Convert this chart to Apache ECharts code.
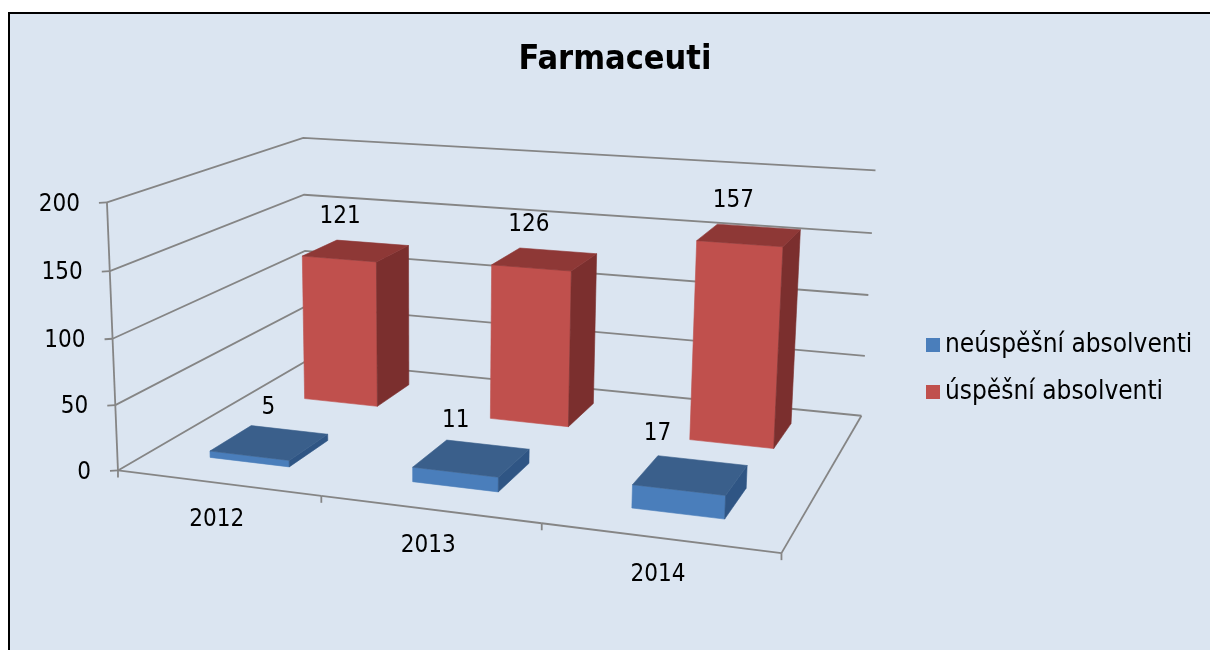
<!DOCTYPE html>
<html>
<head>
<meta charset="utf-8">
<script src="https://cdn.jsdelivr.net/npm/echarts@6/dist/echarts.min.js"></script>
<style>
html,body{margin:0;padding:0;background:#fff;}
#chart{width:1210px;height:650px;}
</style>
</head>
<body>
<div id="chart"></div>
<script>
// ---- data ----
const categories = ['2012', '2013', '2014'];
const neuspesni = [5, 11, 17];
const uspesni = [121, 126, 157];
const yTicks = [0, 50, 100, 150, 200];
const seriesNames = ['neúspěšní absolventi', 'úspěšní absolventi'];

// ---- layout / style ----
const FONT = "'DejaVu Sans Condensed', 'DejaVu Sans', sans-serif";
const GRID_COLOR = '#858585';
const GRID_WIDTH = 1.8;
const ROW_CENTER = [0.26, 0.77];   // depth of the two series rows (0 front .. 1 back)
const BAR_DEPTH = 0.21;
const BAR_WIDTH = 0.40;            // fraction of category band
const LABEL_DEPTH = [0.70, 0.77];  // depth at which value labels are anchored, per row
const LABEL_OFFSET = [[-78, 15], [-16, -34]]; // per row: [dx, dy] of value labels
// 3D frame anchors: [u, v, w, screenX, screenY] (u across, v height, w depth)
const FRAME_ANCHORS = [
  [0, 0, 0, 120, 470], [0, 0.25, 0, 116, 405], [0, 0.5, 0, 113, 338], [0, 0.75, 0, 109, 272], [0, 1, 0, 105, 202],
  [0, 0, 1, 305, 362], [0, 0.25, 1, 305, 306], [0, 0.5, 1, 305, 250], [0, 0.75, 1, 305, 194], [0, 1, 1, 305, 138.5],
  [1, 0, 1, 862, 415], [1, 0.25, 1, 865, 356], [1, 0.5, 1, 868, 295], [1, 0.75, 1, 872, 233], [1, 1, 1, 875, 171],
  [1, 0, 0, 782, 553], [1/3, 0, 0, 321, 497], [2/3, 0, 0, 541, 523]
];

// ---- fit a perspective camera (DLT) ----
function solveLinear(M, v) {
  const n = v.length;
  const A = M.map((r, i) => r.concat([v[i]]));
  for (let c = 0; c < n; c++) {
    let p = c;
    for (let r = c + 1; r < n; r++) if (Math.abs(A[r][c]) > Math.abs(A[p][c])) p = r;
    [A[c], A[p]] = [A[p], A[c]];
    for (let r = c + 1; r < n; r++) {
      const f = A[r][c] / A[c][c];
      for (let k = c; k <= n; k++) A[r][k] -= f * A[c][k];
    }
  }
  const x = new Array(n).fill(0);
  for (let r = n - 1; r >= 0; r--) {
    let s = A[r][n];
    for (let k = r + 1; k < n; k++) s -= A[r][k] * x[k];
    x[r] = s / A[r][r];
  }
  return x;
}
const S = 1000;
function fitCamera(pts) {
  const n = 11;
  const M = Array.from({length: n}, () => new Array(n).fill(0));
  const v = new Array(n).fill(0);
  const add = (row, b) => {
    for (let j = 0; j < n; j++) {
      v[j] += row[j] * b;
      for (let k = 0; k < n; k++) M[j][k] += row[j] * row[k];
    }
  };
  pts.forEach(([X, Y, Z, x, y]) => {
    x /= S; y /= S;
    add([X, Y, Z, 1, 0, 0, 0, 0, -x * X, -x * Y, -x * Z], x);
    add([0, 0, 0, 0, X, Y, Z, 1, -y * X, -y * Y, -y * Z], y);
  });
  return solveLinear(M, v);
}
const CAM = fitCamera(FRAME_ANCHORS);
function project(u, v, w) {
  const p = CAM;
  const d = p[8] * u + p[9] * v + p[10] * w + 1;
  return [S * (p[0] * u + p[1] * v + p[2] * w + p[3]) / d,
          S * (p[4] * u + p[5] * v + p[6] * w + p[7]) / d];
}

function normU(cs, px) { return (px - cs.x) / cs.width; }
function normV(cs, py) { return (cs.y + cs.height - py) / cs.height; }
const gridLine = {stroke: GRID_COLOR, lineWidth: GRID_WIDTH};

// ---- walls & value axis ----
function renderWall(params, api) {
  const cs = params.coordSys;
  const val = api.value(1);
  const v = normV(cs, api.coord([0, val])[1]);
  const a = project(0, v, 0), b = project(0, v, 1), c = project(1, v, 1);
  const children = [
    {type: 'polyline', shape: {points: [a, b, c]}, style: {stroke: GRID_COLOR, lineWidth: GRID_WIDTH, fill: null}},
    {type: 'line', shape: {x1: a[0], y1: a[1], x2: a[0] - 8, y2: a[1] + 0.5}, style: gridLine},
    {type: 'text', x: a[0] - 27, y: a[1] + 2, style: {text: String(val), align: 'right', verticalAlign: 'middle',
      fontSize: 24, fontFamily: FONT, fill: '#000'}}
  ];
  if (params.dataIndex > 0) {
    const vp = normV(cs, api.coord([0, yTicks[params.dataIndex - 1]])[1]);
    const q = project(0, vp, 0);
    children.push({type: 'line', shape: {x1: a[0], y1: a[1], x2: q[0], y2: q[1]}, style: gridLine});
  }
  return {type: 'group', children};
}

// ---- floor front edge & category axis ----
function renderCategory(params, api) {
  const cs = params.coordSys;
  const idx = api.value(0);
  const p = api.coord([idx, 0]);
  const band = api.size([1, 0])[0];
  const uc = normU(cs, p[0]);
  const hb = band / 2 / cs.width;
  const A = project(uc - hb, 0, 0), B = project(uc + hb, 0, 0), C = project(uc, 0, 0);
  const children = [
    {type: 'line', shape: {x1: A[0], y1: A[1], x2: B[0], y2: B[1]}, style: gridLine},
    {type: 'line', shape: {x1: A[0], y1: A[1], x2: A[0], y2: A[1] + 7}, style: gridLine},
    {type: 'text', x: C[0] - 1, y: C[1] + 37, style: {text: categories[idx], align: 'center', verticalAlign: 'middle',
      fontSize: 24, fontFamily: FONT, fill: '#000'}}
  ];
  if (idx === categories.length - 1) {
    const D = project(uc + hb, 0, 1);
    children.push({type: 'line', shape: {x1: B[0], y1: B[1], x2: B[0], y2: B[1] + 7}, style: gridLine});
    children.push({type: 'line', shape: {x1: B[0], y1: B[1], x2: D[0], y2: D[1]}, style: gridLine});
  }
  return {type: 'group', children};
}

// ---- 3D bars ----
function makeBarRenderer(row, col) {
  return function (params, api) {
    const cs = params.coordSys;
    const idx = api.value(0), val = api.value(1);
    const p = api.coord([idx, val]);
    const p0 = api.coord([idx, 0]);
    const band = api.size([1, 0])[0];
    const uc = normU(cs, p[0]);
    const hw = band * BAR_WIDTH / 2 / cs.width;
    const vt = normV(cs, p[1]), vb = normV(cs, p0[1]);
    const u0 = uc - hw, u1 = uc + hw;
    const w0 = ROW_CENTER[row] - BAR_DEPTH / 2, w1 = ROW_CENTER[row] + BAR_DEPTH / 2;
    const P = project;
    const face = (pts, c) => ({type: 'polygon', shape: {points: pts}, style: {fill: c, stroke: c, lineWidth: 0.6}});
    const lab = P(uc, vt, LABEL_DEPTH[row]);
    const off = LABEL_OFFSET[row];
    return {type: 'group', children: [
      face([P(u0, vb, w0), P(u1, vb, w0), P(u1, vt, w0), P(u0, vt, w0)], col.front),
      face([P(u1, vb, w0), P(u1, vb, w1), P(u1, vt, w1), P(u1, vt, w0)], col.side),
      face([P(u0, vt, w0), P(u1, vt, w0), P(u1, vt, w1), P(u0, vt, w1)], col.top),
      {type: 'text', x: lab[0] + off[0], y: lab[1] + off[1], style: {text: String(val), align: 'center', verticalAlign: 'middle',
        fontSize: 24, fontFamily: FONT, fill: '#000'}}
    ]};
  };
}

const BLUE = {front: '#4A7EBB', side: '#2F5584', top: '#3A5F8B'};
const RED = {front: '#C0504D', side: '#7B2F2E', top: '#8E3836'};

const chart = echarts.init(document.getElementById('chart'), null, {renderer: 'canvas'});
chart.setOption({
  backgroundColor: '#ffffff',
  animation: false,
  title: {
    text: 'Farmaceuti', left: 610, top: 38, textAlign: 'center',
    textStyle: {fontSize: 34, fontWeight: 'bold', color: '#000', fontFamily: FONT}
  },
  graphic: [{
    type: 'rect', z: -10, silent: true,
    shape: {x: 9, y: 13, width: 1220, height: 660},
    style: {fill: '#DBE5F1', stroke: '#000', lineWidth: 2}
  }],
  legend: {
    orient: 'vertical', left: 921, top: 325, icon: 'rect', itemWidth: 14, itemHeight: 14, itemGap: 17,
    data: seriesNames,
    textStyle: {fontSize: 26, lineHeight: 30, fontFamily: FONT, color: '#000'}
  },
  grid: {left: 100, top: 100, width: 600, height: 400, show: false},
  xAxis: {type: 'category', data: categories, show: false},
  yAxis: {type: 'value', min: 0, max: 200, interval: 50, show: false},
  series: [
    {type: 'custom', name: '_walls', z: 1, silent: true, renderItem: renderWall,
      data: yTicks.map(v => [0, v])},
    {type: 'custom', name: '_cats', z: 1, silent: true, renderItem: renderCategory,
      data: categories.map((c, i) => [i, 0])},
    {type: 'custom', name: seriesNames[1], z: 2, itemStyle: {color: RED.front},
      renderItem: makeBarRenderer(1, RED), data: uspesni.map((v, i) => [i, v])},
    {type: 'custom', name: seriesNames[0], z: 3, itemStyle: {color: BLUE.front},
      renderItem: makeBarRenderer(0, BLUE), data: neuspesni.map((v, i) => [i, v])}
  ]
});
</script>
</body>
</html>
